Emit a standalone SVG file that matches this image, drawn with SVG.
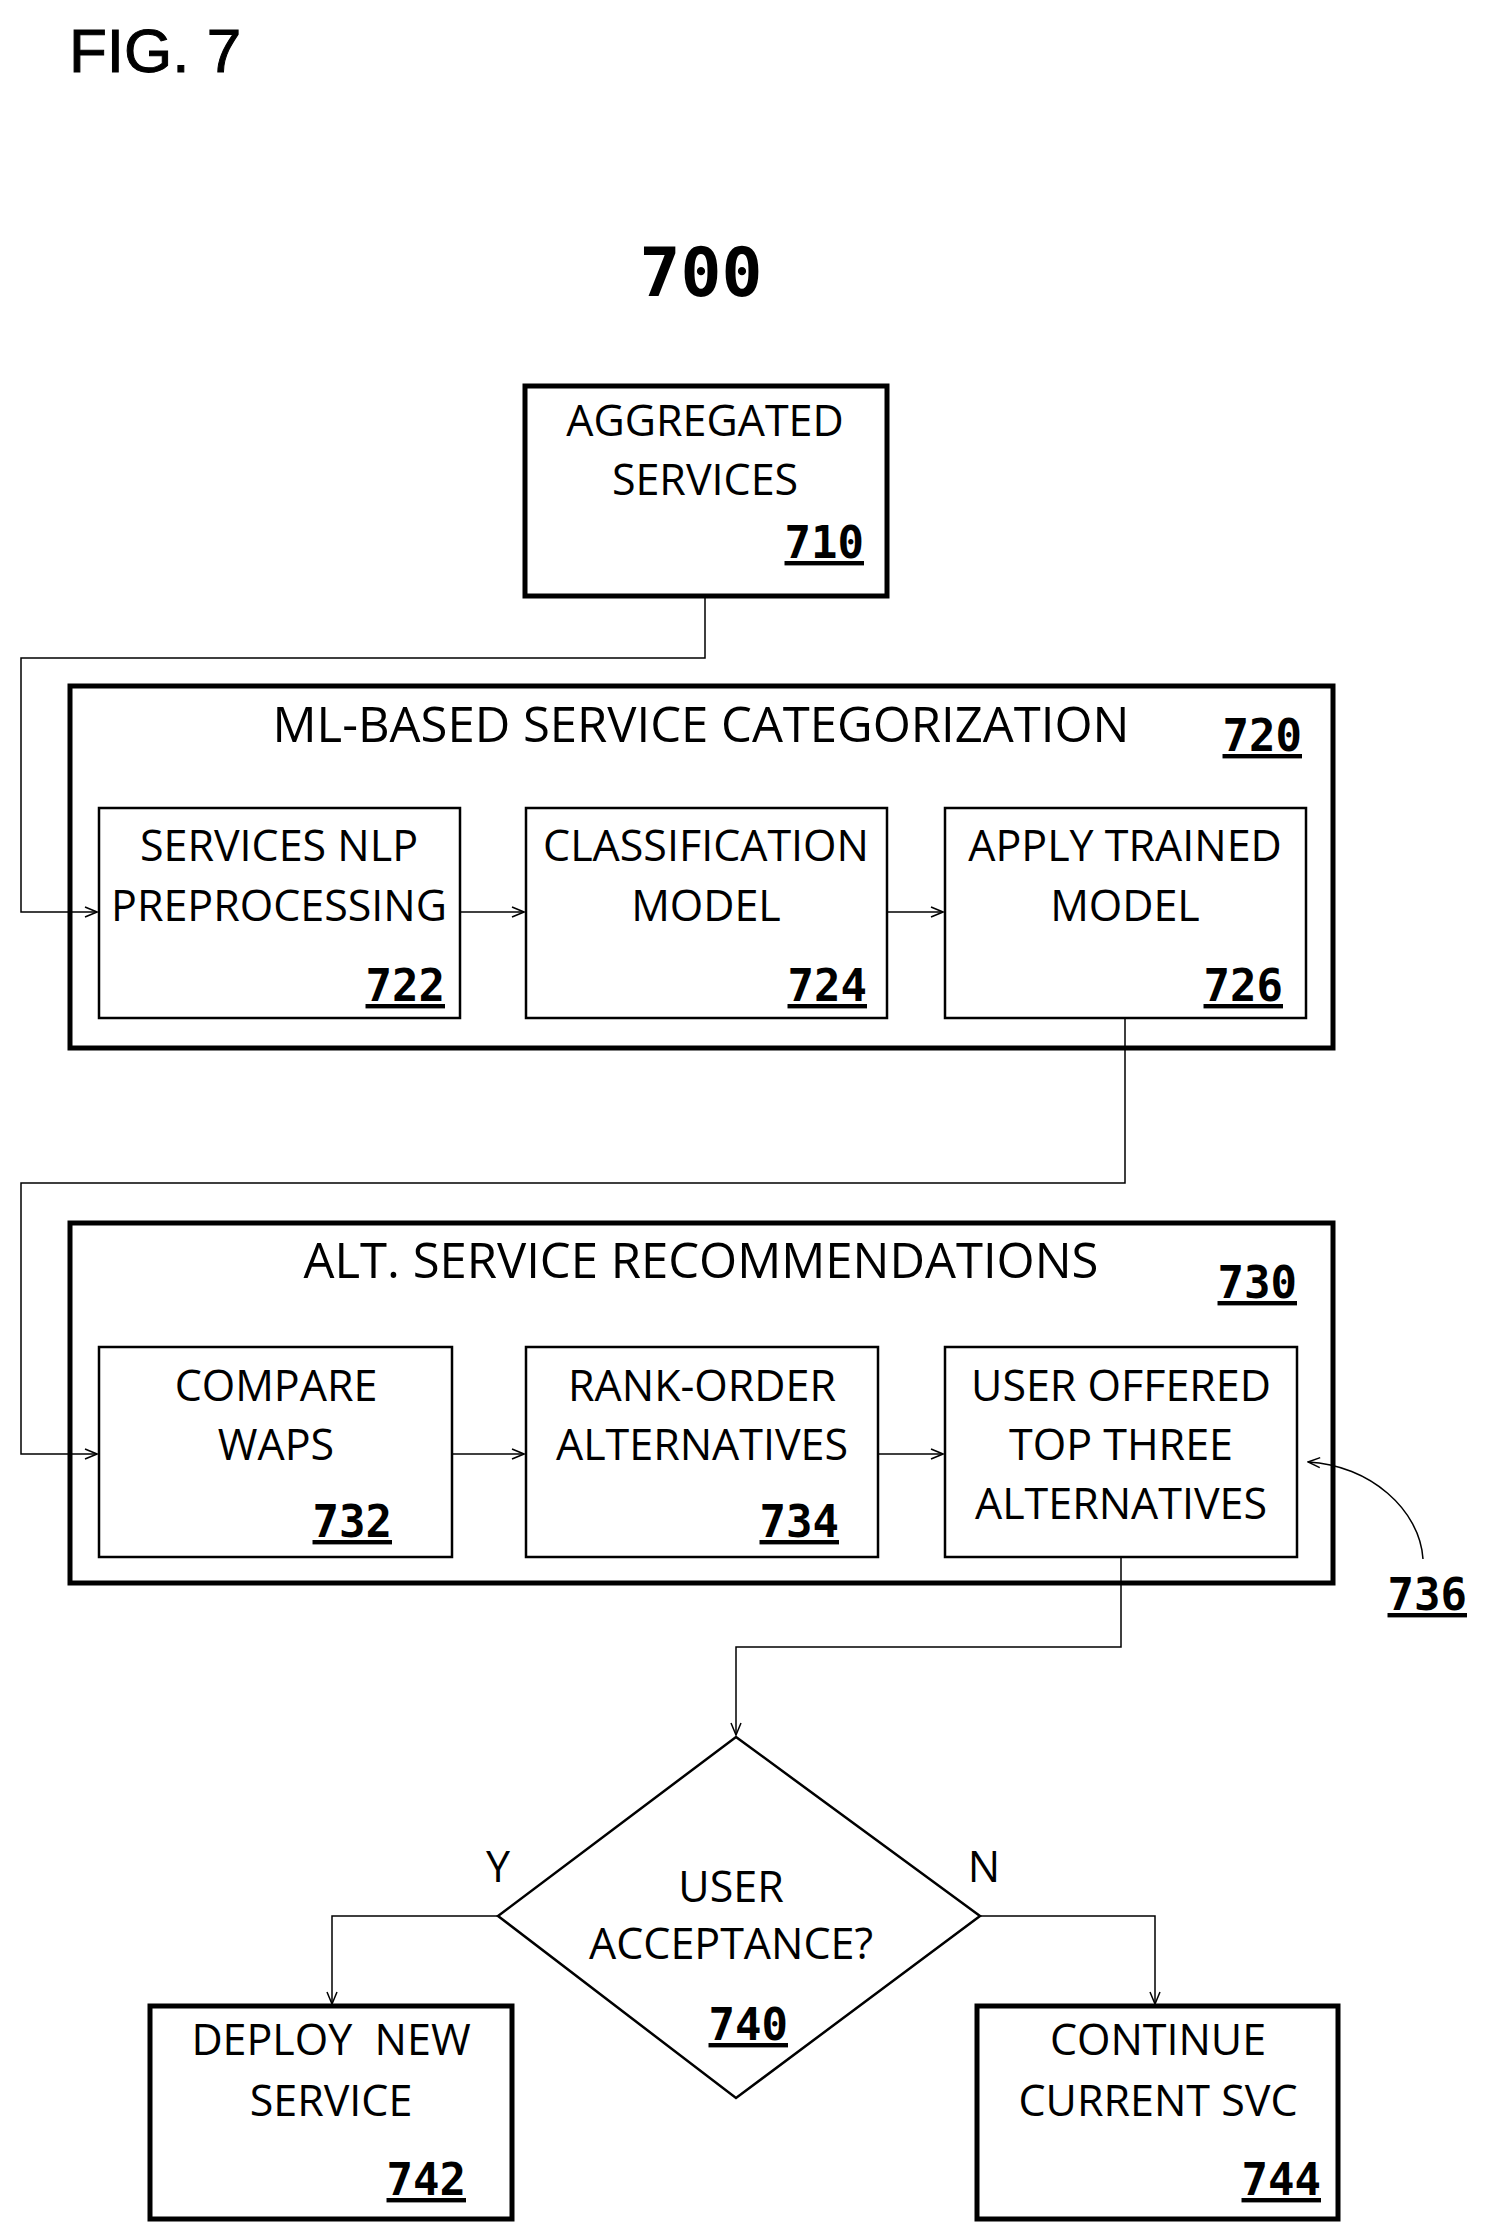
<svg xmlns="http://www.w3.org/2000/svg" width="1488" height="2240" viewBox="0 0 1488 2240">
<style>
.t{font-family:"Open Sans","DejaVu Sans",sans-serif;font-size:43px;text-anchor:middle;fill:#000}
.h{font-family:"Open Sans","DejaVu Sans",sans-serif;font-size:49px;text-anchor:middle;fill:#000}
.n{font-family:"DejaVu Sans Mono",monospace;font-weight:bold;font-size:44px;text-anchor:end;text-decoration:underline;fill:#000}
.thick{fill:#fff;stroke:#000;stroke-width:5}
.thin{fill:#fff;stroke:#000;stroke-width:2.5}
.c{fill:none;stroke:#000;stroke-width:1.5}
</style>
<defs><marker id="a" markerWidth="14" markerHeight="12" refX="13" refY="6" orient="auto" markerUnits="userSpaceOnUse"><path d="M1,1 L13,6 L1,11" fill="none" stroke="#000" stroke-width="1.5"/></marker></defs>
<text x="69" y="72" font-family="Liberation Sans,sans-serif" font-size="62" fill="#000" stroke="#000" stroke-width="1">FIG. 7</text>
<text x="701" y="296" font-family="DejaVu Sans Mono,monospace" font-weight="bold" font-size="68" text-anchor="middle">700</text>
<g id="n710"><rect class="thick" x="525" y="386" width="362" height="210"/><text class="t" x="705" y="436">AGGREGATED</text><text class="t" x="705" y="495">SERVICES</text><text class="n" x="864" y="558">710</text></g>
<g id="n720"><rect class="thick" x="70" y="686" width="1263" height="362"/><text class="h" x="701" y="742">ML-BASED SERVICE CATEGORIZATION</text><text class="n" x="1302" y="751">720</text></g>
<g id="n722"><rect class="thin" x="99" y="808" width="361" height="210"/><text class="t" x="279" y="861">SERVICES NLP</text><text class="t" x="279" y="921">PREPROCESSING</text><text class="n" x="445" y="1001">722</text></g>
<g id="n724"><rect class="thin" x="526" y="808" width="361" height="210"/><text class="t" x="706" y="861">CLASSIFICATION</text><text class="t" x="706" y="921">MODEL</text><text class="n" x="867" y="1001">724</text></g>
<g id="n726"><rect class="thin" x="945" y="808" width="361" height="210"/><text class="t" x="1125" y="861">APPLY TRAINED</text><text class="t" x="1125" y="921">MODEL</text><text class="n" x="1283" y="1001">726</text></g>
<g id="n730"><rect class="thick" x="70" y="1223" width="1263" height="360"/><text class="h" x="701" y="1278">ALT. SERVICE RECOMMENDATIONS</text><text class="n" x="1297" y="1298">730</text></g>
<g id="n732"><rect class="thin" x="99" y="1347" width="353" height="210"/><text class="t" x="276" y="1401">COMPARE</text><text class="t" x="276" y="1460">WAPS</text><text class="n" x="392" y="1537">732</text></g>
<g id="n734"><rect class="thin" x="526" y="1347" width="352" height="210"/><text class="t" x="702" y="1401">RANK-ORDER</text><text class="t" x="702" y="1460">ALTERNATIVES</text><text class="n" x="839" y="1537">734</text></g>
<g id="n736"><rect class="thin" x="945" y="1347" width="352" height="210"/><text class="t" x="1121" y="1401">USER OFFERED</text><text class="t" x="1121" y="1460">TOP THREE</text><text class="t" x="1121" y="1519">ALTERNATIVES</text></g>
<g id="l736"><text class="n" x="1467" y="1610">736</text></g>
<g id="n740"><polygon class="thin" points="736,1737 980,1916 736,2098 498,1916"/><text class="t" x="731" y="1902">USER</text><text class="t" x="731" y="1959">ACCEPTANCE?</text><text class="n" x="788" y="2040">740</text></g>
<text class="t" x="498" y="1882">Y</text>
<text class="t" x="984" y="1882">N</text>
<g id="n742"><rect class="thick" x="150" y="2006" width="362" height="213"/><text class="t" x="331" y="2055">DEPLOY&#160; NEW</text><text class="t" x="331" y="2116">SERVICE</text><text class="n" x="466" y="2195">742</text></g>
<g id="n744"><rect class="thick" x="977" y="2006" width="361" height="213"/><text class="t" x="1158" y="2055">CONTINUE</text><text class="t" x="1158" y="2116">CURRENT SVC</text><text class="n" x="1321" y="2195">744</text></g>
<g id="connectors">
<path class="c" d="M705,598 V658 H21 V912 H97" marker-end="url(#a)" stroke-width="2.5"/>
<path class="c" d="M461,912 H524" marker-end="url(#a)"/>
<path class="c" d="M888,912 H943" marker-end="url(#a)"/>
<path class="c" d="M1125,1019 V1183 H21 V1454 H97" marker-end="url(#a)"/>
<path class="c" d="M453,1454 H524" marker-end="url(#a)"/>
<path class="c" d="M879,1454 H943" marker-end="url(#a)"/>
<path class="c" d="M1423,1559 C1420,1510 1370,1465 1308,1462" marker-end="url(#a)"/>
<path class="c" d="M1121,1558 V1647 H736 V1735" marker-end="url(#a)"/>
<path class="c" d="M498,1916 H332 V2004" marker-end="url(#a)"/>
<path class="c" d="M980,1916 H1155 V2004" marker-end="url(#a)"/>
</g>
</svg>
